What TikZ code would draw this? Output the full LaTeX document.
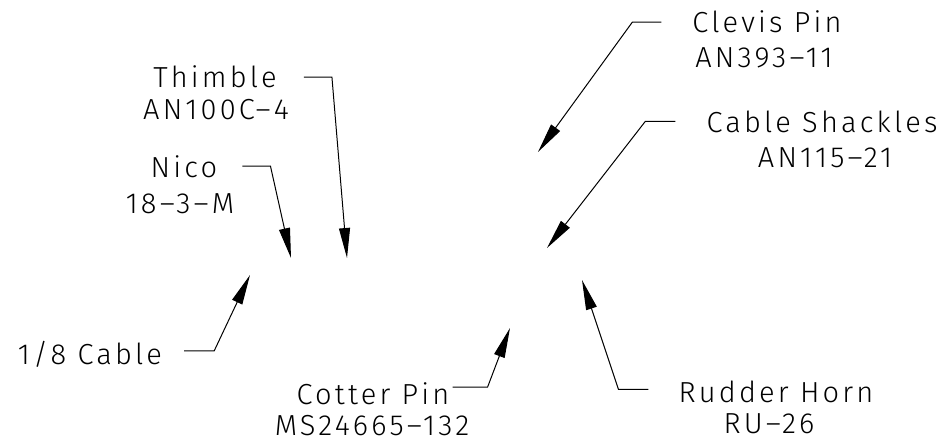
\documentclass[tikz,border=0pt]{standalone}
\usepackage{fontspec}
\setmainfont{Fira Sans}[UprightFont=* Light, LetterSpace=11]
\usetikzlibrary{arrows.meta,positioning}

\begin{document}
\begin{tikzpicture}[
    x=1pt, y=-1pt,
    font=\fontsize{29}{34}\selectfont,
    callout/.style={inner sep=0pt, anchor=base},
    leader/.style={-{Triangle[length=30pt, width=11pt]}, line width=1pt}
  ]
    \useasboundingbox (0,0) rectangle (942,441);

    % part names and numbers
    \node[callout] (thimble) at (215,88) {Thimble};
    \node[callout] (thimblePN) at (216,120) {AN100C–4};
    \node[callout] (nico) at (184,177) {Nico};
    \node[callout] (nicoPN) at (180,213) {18–3–M};
    \node[callout] (cable) at (90,364) {1/8 Cable};
    \node[callout] (cotter) at (373,404) {Cotter Pin};
    \node[callout] (cotterPN) at (372,435) {MS24665–132};
    \node[callout] (clevis) at (767,33) {Clevis Pin};
    \node[callout] (clevisPN) at (764,68) {AN393–11};
    \node[callout] (shackle) at (822,132) {Cable Shackles};
    \node[callout] (shacklePN) at (825,167) {AN115–21};
    \node[callout] (horn) at (776,402) {Rudder Horn};
    \node[callout] (hornPN) at (769,433) {RU–26};

    % arrow points
    \coordinate (thimbleTip) at (347,258);
    \coordinate (nicoTip) at (291,258);
    \coordinate (cableTip) at (250,275);
    \coordinate (cotterTip) at (510,328);
    \coordinate (clevisTip) at (538,152);
    \coordinate (shackleTip) at (547,248);
    \coordinate (hornTip) at (582,280);

    \draw[leader] ([xshift=27pt]thimble.east) -- ++(28,0) -- (thimbleTip);
    \draw[leader] ([xshift=25pt]nico.east) -- ++(28,0) -- (nicoTip);
    \draw[leader] ([xshift=22pt,yshift=3pt]cable.east) -- ++(30,0) -- (cableTip);
    \draw[leader] ([xshift=3pt,yshift=6pt]cotter.east) -- ++(35,0) -- (cotterTip);
    \draw[leader] ([xshift=-31pt]clevis.west) -- ++(-29,0) -- (clevisTip);
    \draw[leader] ([xshift=-31pt]shackle.west) -- ++(-30,0) -- (shackleTip);
    \draw[leader] ([xshift=-30pt,yshift=2pt]horn.west) -- ++(-30,0) -- (hornTip);
  \end{tikzpicture}
\end{document}
